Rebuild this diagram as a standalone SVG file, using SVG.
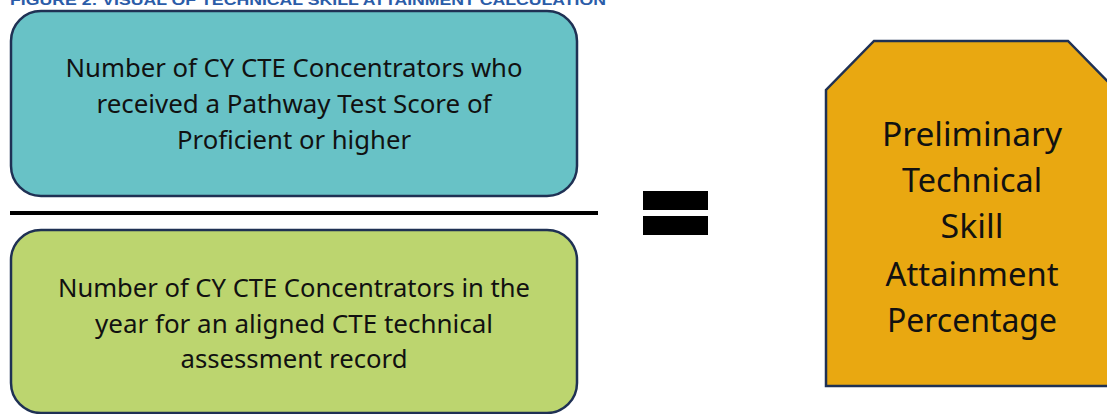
<svg xmlns="http://www.w3.org/2000/svg" width="1107" height="414" viewBox="0 0 1107 414">
  <style>
    .box { stroke: #1f3154; stroke-width: 2.5; }
    .lbl { font-family: "Noto Sans", "Open Sans", sans-serif; fill: #111; text-anchor: middle; }
    .frac { font-size: 25px; }
    .res { font-size: 33px; }
    .title { font-family: "Liberation Sans", "Noto Sans", sans-serif; font-weight: bold; font-size: 14px; fill: #2b5ca8; }
  </style>

  <!-- figure caption (runs off the top edge) -->
  <text class="title" x="10" y="5" textLength="596" lengthAdjust="spacingAndGlyphs">FIGURE 2: VISUAL OF TECHNICAL SKILL ATTAINMENT CALCULATION</text>

  <!-- numerator -->
  <g id="numerator">
    <rect class="box" x="11" y="11" width="566" height="185" rx="30" ry="30" fill="#68c2c6"/>
    <text class="lbl frac" x="294" y="77" textLength="457" lengthAdjust="spacingAndGlyphs">Number of CY CTE Concentrators who</text>
    <text class="lbl frac" x="294" y="113" textLength="395" lengthAdjust="spacingAndGlyphs">received a Pathway Test Score of</text>
    <text class="lbl frac" x="294" y="149" textLength="234" lengthAdjust="spacingAndGlyphs">Proficient or higher</text>
  </g>

  <!-- fraction bar -->
  <g id="fraction-bar">
    <rect x="10" y="211" width="588" height="4" fill="#000"/>
  </g>

  <!-- denominator -->
  <g id="denominator">
    <rect class="box" x="11" y="230" width="566" height="183" rx="30" ry="30" fill="#bcd56f"/>
    <text class="lbl frac" x="294" y="297" textLength="472" lengthAdjust="spacingAndGlyphs">Number of CY CTE Concentrators in the</text>
    <text class="lbl frac" x="294" y="333" textLength="398" lengthAdjust="spacingAndGlyphs">year for an aligned CTE technical</text>
    <text class="lbl frac" x="294" y="368" textLength="227" lengthAdjust="spacingAndGlyphs">assessment record</text>
  </g>

  <!-- equals sign -->
  <g id="equals">
    <rect x="643" y="191" width="65" height="19" fill="#000"/>
    <rect x="643" y="216" width="65" height="19" fill="#000"/>
  </g>

  <!-- result: clipped-corner box -->
  <g id="result">
    <path class="box" d="M826,386 L826,90 L874,41 L1068,41 L1116,90 L1116,386 Z" fill="#e9a811"/>
    <text class="lbl res" x="972" y="146" textLength="180" lengthAdjust="spacingAndGlyphs">Preliminary</text>
    <text class="lbl res" x="972" y="192" textLength="140" lengthAdjust="spacingAndGlyphs">Technical</text>
    <text class="lbl res" x="972" y="238" textLength="63" lengthAdjust="spacingAndGlyphs">Skill</text>
    <text class="lbl res" x="972" y="286" textLength="173" lengthAdjust="spacingAndGlyphs">Attainment</text>
    <text class="lbl res" x="972" y="332" textLength="170" lengthAdjust="spacingAndGlyphs">Percentage</text>
  </g>
</svg>
